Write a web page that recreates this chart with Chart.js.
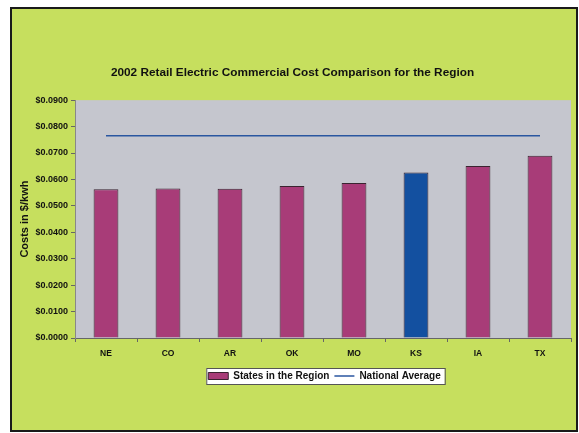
<!DOCTYPE html>
<html>
<head>
<meta charset="utf-8">
<script src="https://cdn.jsdelivr.net/npm/chart.js@4.4.1/dist/chart.umd.min.js"></script>
<style>
  html, body { margin: 0; padding: 0; background: #ffffff; }
  #wrap { width: 579px; height: 433px; }
</style>
</head>
<body>
<div id="wrap"><canvas id="chart" width="579" height="433"></canvas></div>
<script>
// Donnees
const states = ['NE', 'CO', 'AR', 'OK', 'MO', 'KS', 'IA', 'TX'];
const stateCosts = [0.0563, 0.0566, 0.0565, 0.0575, 0.0587, 0.0626, 0.0651, 0.0690];
const nationalAverage = [0.0765, 0.0765, 0.0765, 0.0765, 0.0765, 0.0765, 0.0765, 0.0765];
const highlightState = 'KS';

const pink = '#a83c78';
const blue = '#1350a0';
const barColors = states.map(s => s === highlightState ? blue : pink);

// Fond : cadre vert, zone du graphique grise, boite de legende
const backgroundPlugin = {
    id: 'background',
    afterLayout(chart) {
        // la legende est decalee vers la droite dans l'original
        chart.legend.left += 32;
        chart.legend.right += 32;
    },
    beforeDraw(chart) {
        const ctx = chart.ctx;
        ctx.save();
        ctx.fillStyle = '#ffffff';
        ctx.fillRect(0, 0, chart.width, chart.height);
        ctx.fillStyle = '#c6df5e';
        ctx.fillRect(11, 8, 566, 423);
        ctx.strokeStyle = '#1a1a1a';
        ctx.lineWidth = 2;
        ctx.strokeRect(11, 8, 566, 423);

        const a = chart.chartArea;
        ctx.fillStyle = '#c5c6ce';
        ctx.fillRect(a.left, a.top, a.right - a.left, a.bottom - a.top);

        const boxes = chart.legend.legendHitBoxes;
        if (boxes && boxes.length) {
            const l = Math.min(...boxes.map(b => b.left)) - 2;
            const r = Math.max(...boxes.map(b => b.left + b.width)) + 4;
            const t = Math.min(...boxes.map(b => b.top)) - 3;
            const bt = Math.max(...boxes.map(b => b.top + b.height)) + 3;
            ctx.fillStyle = '#ffffff';
            ctx.fillRect(l, t, r - l, bt - t);
            ctx.strokeStyle = '#555555';
            ctx.lineWidth = 1;
            ctx.strokeRect(l + 0.5, t + 0.5, r - l, bt - t);
        }
        ctx.restore();
    }
};

const ctx = document.getElementById('chart').getContext('2d');
new Chart(ctx, {
    type: 'bar',
    data: {
        labels: states,
        datasets: [{
            label: 'States in the Region',
            data: stateCosts,
            backgroundColor: barColors,
            borderColor: '#3a2430',
            borderWidth: 1,
            barPercentage: 0.4,
            categoryPercentage: 1,
            pointStyle: 'rect'
        }, {
            type: 'line',
            label: 'National Average',
            data: nationalAverage,
            borderColor: '#2a56a0',
            backgroundColor: '#2a56a0',
            borderWidth: 1.5,
            pointRadius: 0,
            fill: false,
            pointStyle: 'line'
        }]
    },
    options: {
        responsive: false,
        animation: false,
        layout: { padding: { left: 14, right: 8, top: 0, bottom: 42 } },
        plugins: {
            title: {
                display: true,
                text: '2002 Retail Electric Commercial Cost Comparison for the Region',
                color: '#111111',
                font: { family: 'Liberation Sans', size: 11.8, weight: 'bold' },
                padding: { top: 66, bottom: 20 }
            },
            legend: {
                position: 'bottom',
                labels: {
                    usePointStyle: true,
                    pointStyleWidth: 20,
                    boxHeight: 7,
                    padding: 5,
                    color: '#111111',
                    font: { family: 'Liberation Sans', size: 10, weight: 'bold' },
                    sort: (a, b) => a.datasetIndex - b.datasetIndex
                }
            },
            tooltip: { enabled: false }
        },
        scales: {
            x: {
                grid: { drawOnChartArea: false, drawTicks: true, tickLength: 4, color: '#666666', offset: true },
                border: { display: true, color: '#666666' },
                ticks: {
                    color: '#111111',
                    padding: 7,
                    font: { family: 'Liberation Sans', size: 8.5, weight: 'bold' }
                },
                afterFit(scale) { scale.height = 28; }
            },
            y: {
                min: 0,
                max: 0.09,
                grid: { drawOnChartArea: false, drawTicks: true, tickLength: 4, color: '#666666' },
                border: { display: true, color: '#888888' },
                ticks: {
                    stepSize: 0.01,
                    padding: 3,
                    color: '#111111',
                    font: { family: 'Liberation Sans', size: 9, weight: 'bold' },
                    callback: v => '$' + Number(v).toFixed(4)
                },
                title: {
                    display: true,
                    text: 'Costs in $/kwh',
                    color: '#111111',
                    font: { family: 'Liberation Sans', size: 11, weight: 'bold' },
                    padding: { top: 4, bottom: 4 }
                },
                afterFit(scale) { scale.width = 61; }
            }
        }
    },
    plugins: [backgroundPlugin]
});
</script>
</body>
</html>
